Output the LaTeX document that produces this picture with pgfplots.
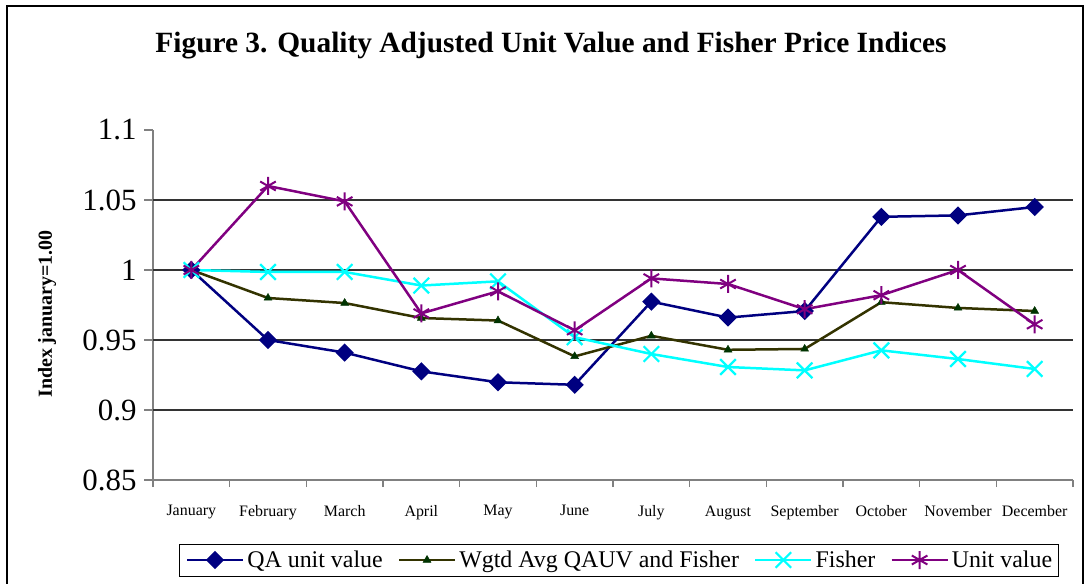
\documentclass[border=0pt]{standalone}
\usepackage{fontspec}
\setmainfont{Liberation Serif}
\usepackage{pgfplots}
\pgfplotsset{compat=1.18}
\definecolor{qa}{HTML}{000080}
\definecolor{wg}{HTML}{333300}
\definecolor{wgm}{HTML}{003300}
\definecolor{fi}{HTML}{00FFFF}
\definecolor{uv}{HTML}{800080}
\definecolor{axgray}{HTML}{808080}
\begin{document}
\begin{tikzpicture}
\useasboundingbox (0bp,0bp) rectangle (1086bp,584bp);
\draw[line width=1.3bp] (7bp,-2bp) -- (7bp,578bp) -- (1083bp,578bp) -- (1083bp,-2bp);
\node[font=\bfseries\fontsize{29.5}{34}\selectfont] at (551bp,538bp) {Figure 3. Quality Adjusted Unit Value and Fisher Price Indices};
\node[font=\bfseries\fontsize{20}{24}\selectfont, rotate=90] at (47bp,270bp) {Index january=1.00};
\begin{axis}[
  at={(153bp,104bp)}, anchor=south west,
  scale only axis, width=920bp, height=350bp,
  xmin=0.5, xmax=12.5, ymin=0.85, ymax=1.1,
  axis x line*=bottom, axis y line*=left,
  axis line style={axgray, line width=1.5bp},
  xtick={1,...,12},
  xticklabels={January,February,March,April,May,June,July,August,September,October,November,December},
  minor xtick={0.5,1.5,...,12.5},
  major x tick style={draw=none},
  minor x tick style={axgray, line width=1.2bp},
  minor tick length=7bp,
  xticklabel style={font=\fontsize{16}{19}\selectfont, yshift=-13bp},
  ytick={0.85,0.9,0.95,1,1.05,1.1},
  yticklabels={0.85,0.9,0.95,1,1.05,1.1},
  yticklabel style={font=\fontsize{31}{36}\selectfont, xshift=-4bp},
  major y tick style={axgray, line width=1.2bp},
  major tick length=9bp,
  tick align=outside,
  extra y ticks={0.9,0.95,1,1.05},
  extra y tick labels={},
  extra y tick style={grid=major, major tick length=0bp},
  major grid style={black!80, line width=1.2bp},
  clip=false,
  legend style={at={(0.5065,-0.2286)}, anchor=center, draw=black, line width=0.8bp,
    font=\fontsize{24}{28}\selectfont, legend columns=4,
    nodes={inner xsep=0bp},
    /tikz/every odd column/.append style={column sep=3bp},
    /tikz/every even column/.append style={column sep=15bp},
    inner xsep=6bp, inner ysep=5bp},
  legend image code/.code={\draw[mark repeat=2,mark phase=2,#1] plot coordinates {(0bp,0bp) (28bp,0bp) (56bp,0bp)};},
]
\addplot[qa, line width=2.5bp, mark=square*, mark size=5.2bp, mark options={rotate=45, solid, fill=qa}] coordinates {
(1,1.0) (2,0.950) (3,0.941) (4,0.9276) (5,0.9198) (6,0.918) (7,0.9774) (8,0.966) (9,0.9707) (10,1.038) (11,1.039) (12,1.045)};
\addlegendentry{QA unit value}
\addplot[wg, line width=2.5bp, mark=triangle*, mark size=4.5bp, mark options={wgm, fill=wgm, solid, line width=0.5bp}] coordinates {
(1,1.0) (2,0.980) (3,0.9764) (4,0.9657) (5,0.9639) (6,0.9383) (7,0.953) (8,0.943) (9,0.9436) (10,0.977) (11,0.9729) (12,0.9707)};
\addlegendentry{Wgtd Avg QAUV and Fisher}
\addplot[fi, line width=2.5bp, mark=x, mark size=11bp, mark options={solid, line width=2.2bp}] coordinates {
(1,1.0) (2,0.9986) (3,0.9986) (4,0.9889) (5,0.9919) (6,0.952) (7,0.940) (8,0.9307) (9,0.9283) (10,0.9426) (11,0.9364) (12,0.9293)};
\addlegendentry{Fisher}
\addplot[uv, line width=2.5bp, mark=asterisk, mark size=9bp, mark options={solid, line width=2bp}] coordinates {
(1,1.0) (2,1.060) (3,1.049) (4,0.969) (5,0.9848) (6,0.9569) (7,0.994) (8,0.990) (9,0.972) (10,0.982) (11,1.0) (12,0.9612)};
\addlegendentry{Unit value}
\end{axis}
\end{tikzpicture}
\end{document}
